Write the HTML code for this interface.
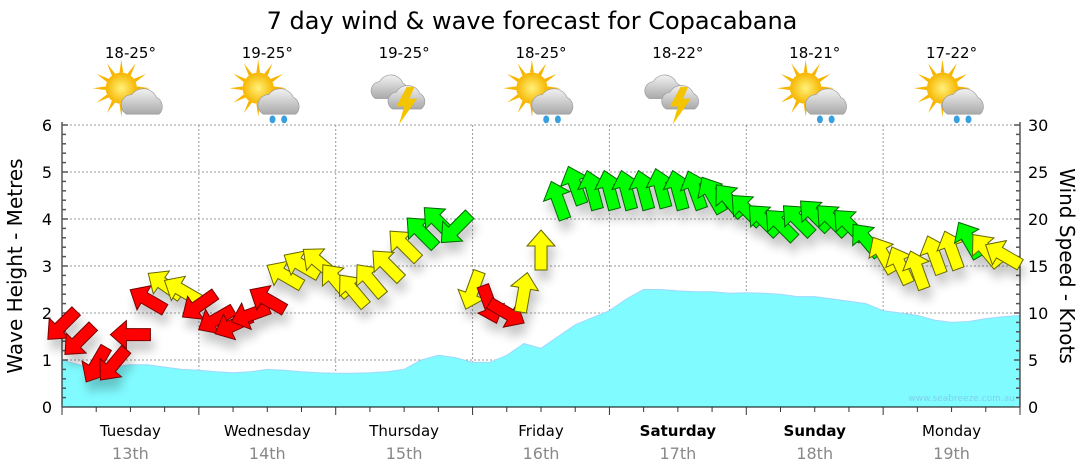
<!DOCTYPE html>
<html><head><meta charset="utf-8"><style>
body{margin:0;background:#fff;font-family:"DejaVu Sans","Liberation Sans",sans-serif}
svg{display:block}
</style></head><body>
<svg id="c" width="1080" height="475" viewBox="0 0 1080 475" xmlns="http://www.w3.org/2000/svg" font-family="DejaVu Sans, Liberation Sans, sans-serif">
<defs>
<radialGradient id="sun" cx="50%" cy="50%" r="50%"><stop offset="0" stop-color="#fff27a"/><stop offset="1" stop-color="#f7b500"/></radialGradient>
<linearGradient id="cloud" x1="0" y1="0" x2="0" y2="1"><stop offset="0" stop-color="#f2f2f2"/><stop offset="1" stop-color="#a9a9a9"/></linearGradient>
<filter id="sh" x="-50%" y="-50%" width="200%" height="200%"><feGaussianBlur in="SourceAlpha" stdDeviation="5"/><feOffset dx="3" dy="10"/><feComponentTransfer><feFuncA type="linear" slope="0.22"/></feComponentTransfer><feMerge><feMergeNode/><feMergeNode in="SourceGraphic"/></feMerge></filter>
</defs>
<text x="532" y="29" text-anchor="middle" font-size="24" fill="#000">7 day wind &amp; wave forecast for Copacabana</text>
<g id="grid"></g>
<g id="wave"></g>
<g id="axes"></g>
<g id="wind" filter="url(#sh)"></g>
<g id="icons"></g>
<text x="1015" y="401" text-anchor="end" font-size="9" fill="#7fd0e8">www.seabreeze.com.au</text>
<text transform="translate(22,266) rotate(-90)" text-anchor="middle" font-size="20">Wave Height - Metres</text>
<text transform="translate(1060,266) rotate(90)" text-anchor="middle" font-size="20">Wind Speed - Knots</text>
</svg>
<script>
const days=["Tuesday","Wednesday","Thursday","Friday","Saturday","Sunday","Monday"];
const dates=["13th","14th","15th","16th","17th","18th","19th"];
const temps=["18-25°","19-25°","19-25°","18-25°","18-22°","18-21°","17-22°"];
const icons=["suncloud","sunrain","storm","sunrain","storm","sunrain","sunrain"];
const waveHeights=[1.0,0.9,0.83,0.85,0.9,0.9,0.85,0.8, 0.78,0.75,0.73,0.75,0.8,0.78,0.75,0.73, 0.72,0.72,0.73,0.75,0.8,1.0,1.1,1.05, 0.95,0.95,1.1,1.35,1.25,1.5,1.75,1.9, 2.05,2.3,2.5,2.5,2.47,2.45,2.45,2.42, 2.43,2.42,2.4,2.35,2.35,2.3,2.25,2.2, 2.05,2.0,1.95,1.85,1.8,1.82,1.88,1.92,1.95];
const windSpeeds=[8.7,7.1,4.5,4.5,7.7,11.4,13,12.4, 10.8,9.3,8.7,9.8,11.4,14,15.1,15.4, 13.5,12.4,13.5,15.1,17.2,18.6,19.7,19.0, 12.4,10.9,10,12.2,16.7,22,23.6,23.1, 23.1,23.1,23.1,23.3,23.1,23.1,22.6,22, 21,19.9,19.4,19.9,20.4,19.9,19.4,17.8, 16.2,15.1,14.6,16.2,16.7,17.8,16.7,16.2];
const windDirs=[225,225,210,220,270,300,305,300, 235,240,245,250,300,300,300,310, 320,320,320,315,315,315,315,225, 200,160,120,10,0,340,340,345, 345,345,345,345,345,340,330,320, 315,315,315,315,315,315,315,320, 330,335,340,340,340,330,320,300];
const leftTicks=[0,1,2,3,4,5,6];
const rightTicks=[0,5,10,15,20,25,30];

const X0=62,X1=1020,Y0=407,Y1=125,NS="http://www.w3.org/2000/svg";
const dayW=(X1-X0)/7;
const xs=i=>X0+i*dayW/8;
const yL=v=>Y0-(v/6)*(Y0-Y1);
const yR=v=>Y0-(v/30)*(Y0-Y1);
function mk(t,a,p){const e=document.createElementNS(NS,t);for(const k in a)e.setAttribute(k,a[k]);(p||document.getElementById('c')).appendChild(e);return e;}
const grid=document.getElementById('grid'),axes=document.getElementById('axes');
leftTicks.forEach(v=>{if(v>0){const l=mk('line',{x1:X0,x2:X1,y1:yL(v),y2:yL(v),stroke:'#999','stroke-dasharray':'2,2'},grid);

}});
for(let d=1;d<7;d++){const l=mk('line',{x1:X0+d*dayW,x2:X0+d*dayW,y1:Y1,y2:Y0,stroke:'#999','stroke-dasharray':'2,2'},grid);

}
let d='M'+X0+','+Y0;waveHeights.forEach((v,i)=>{d+=' L'+xs(i).toFixed(1)+','+yL(v).toFixed(1);});d+=' L'+X1+','+Y0+' Z';
const wa=mk('path',{d:d,fill:'#80fbff',stroke:'#9fd8ff','stroke-width':1},document.getElementById('wave'));


mk('line',{x1:X0,x2:X0,y1:Y1-3,y2:Y0,stroke:'#000'},axes);
mk('line',{x1:X1,x2:X1,y1:Y1-3,y2:Y0,stroke:'#000'},axes);
mk('line',{x1:X0,x2:X1,y1:Y0,y2:Y0,stroke:'#000'},axes);
for(let v=0;v<=6.001;v+=0.2){const y=yL(v);const maj=Math.abs(v-Math.round(v))<0.01;
mk('line',{x1:X0,x2:X0+(maj?6:4),y1:y,y2:y,stroke:'#555','stroke-width':1.5},axes);
mk('line',{x1:X1,x2:X1-(maj?6:4),y1:y,y2:y,stroke:'#555','stroke-width':1.5},axes);}
leftTicks.forEach(v=>{const t=mk('text',{x:X0-10,y:yL(v)+6,'text-anchor':'end','font-size':16},axes);t.textContent=v;

});
rightTicks.forEach(v=>{const t=mk('text',{x:X1+8,y:yR(v)+6,'font-size':16},axes);t.textContent=v;

});
for(let i=0;i<=28;i++){const x=X0+i*dayW/4;mk('line',{x1:x,x2:x,y1:Y0,y2:Y0+(i%4==0?8:5),stroke:'#333'},axes);}
days.forEach((n,i)=>{const cx=X0+(i+0.5)*dayW;
const t=mk('text',{x:cx,y:436,'text-anchor':'middle','font-size':15,'font-weight':(i==4||i==5)?'bold':'normal'},axes);t.textContent=n;


const t2=mk('text',{x:cx,y:459,'text-anchor':'middle','font-size':16,fill:'#888'},axes);t2.textContent=dates[i];


const t3=mk('text',{x:cx,y:58,'text-anchor':'middle','font-size':15},axes);t3.textContent=temps[i];


drawIcon(icons[i],cx,96);});
function drawIcon(k,cx,cy){const g=mk('g',{transform:'translate('+cx+','+cy+') scale(1.3)'},document.getElementById('icons'));


if(k!='storm'){for(let a=0;a<360;a+=30){const r=a*Math.PI/180;mk('polygon',{points:`${-7+Math.cos(r-0.12)*12},${-6+Math.sin(r-0.12)*12} ${-7+Math.cos(r)*22},${-6+Math.sin(r)*22} ${-7+Math.cos(r+0.12)*12},${-6+Math.sin(r+0.12)*12}`,fill:'#f7b500'},g);}
mk('circle',{cx:-7,cy:-6,r:12,fill:'url(#sun)'},g);
mk('path',{d:'M-3,14 a8,8 0 0,1 4,-15 a11,11 0 0,1 19,2 a8,8 0 0,1 2,13 z',fill:'url(#cloud)',stroke:'#999','stroke-width':0.5},g);
if(k=='sunrain'){mk('ellipse',{cx:4,cy:18,rx:2.3,ry:3,fill:'#39a0e0'},g);mk('ellipse',{cx:13,cy:18,rx:2.3,ry:3,fill:'#39a0e0'},g);}}
else{mk('path',{d:'M-22,2 a7,7 0 0,1 3,-13 a10,10 0 0,1 18,1 a7,7 0 0,1 1,12 z',fill:'url(#cloud)',stroke:'#999','stroke-width':0.5},g);
mk('path',{d:'M-9,10 a7,7 0 0,1 3,-13 a10,10 0 0,1 18,1 a7,7 0 0,1 1,12 z',fill:'url(#cloud)',stroke:'#999','stroke-width':0.5},g);
mk('polygon',{points:'2,-7 -6,8 0,8 -4,22 10,2 4,2 8,-7',fill:'#f5c400'},g);}}
const wg=document.getElementById('wind');
const col=v=>v<12?'#ff0000':(v<17.5?'#ffff00':'#00ff00');
const stk=v=>v<12?'#700':(v<17.5?'#666600':'#060');
windSpeeds.forEach((v,i)=>{const x=xs(i),y=yR(v);
const p=mk('polygon',{points:'0,-20 14,-4 6,-4 6,20 -6,20 -6,-4 -14,-4',fill:col(v),stroke:stk(v),'stroke-width':1,transform:`translate(${x.toFixed(1)},${y.toFixed(1)}) rotate(${windDirs[i]})`},wg);

});
</script>
</body></html>
